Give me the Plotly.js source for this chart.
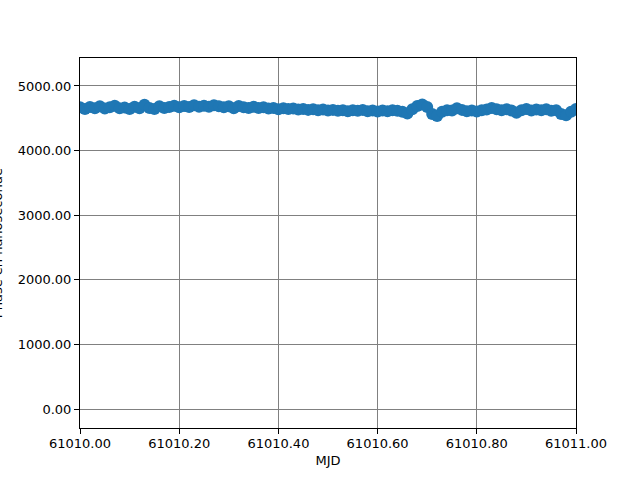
<!DOCTYPE html>
<html>
<head>
<meta charset="utf-8">
<script src="https://cdn.plot.ly/plotly-3.0.1.min.js"></script>
<style>html,body{margin:0;padding:0;background:#fff;}#chart{width:640px;height:480px;}</style>
</head>
<body>
<div id="chart"></div>
<script>
// MJD sample times (offsets in days from 61010)
const mjdOffsets = [0.00,0.01,0.02,0.03,0.04,0.05,0.06,0.07,0.08,0.09,
  0.10,0.11,0.12,0.13,0.14,0.15,0.16,0.17,0.18,0.19,
  0.20,0.21,0.22,0.23,0.24,0.25,0.26,0.27,0.28,0.29,
  0.30,0.31,0.32,0.33,0.34,0.35,0.36,0.37,0.38,0.39,
  0.40,0.41,0.42,0.43,0.44,0.45,0.46,0.47,0.48,0.49,
  0.50,0.51,0.52,0.53,0.54,0.55,0.56,0.57,0.58,0.59,
  0.60,0.61,0.62,0.63,0.64,0.65,0.66,0.67,0.68,0.69,
  0.70,0.71,0.72,0.73,0.74,0.75,0.76,0.77,0.78,0.79,
  0.80,0.81,0.82,0.83,0.84,0.85,0.86,0.87,0.88,0.89,
  0.90,0.91,0.92,0.93,0.94,0.95,0.96,0.97,0.98,0.99,1.00];
const mjdBase = 61010;
// Phase in nanoseconds
const phaseNs = [4670,4645,4675,4655,4685,4650,4670,4695,4655,4665,
  4645,4680,4655,4710,4660,4645,4685,4660,4675,4695,
  4670,4690,4675,4700,4680,4695,4680,4700,4685,4670,
  4685,4655,4690,4670,4660,4680,4660,4670,4650,4660,
  4640,4655,4645,4650,4635,4645,4630,4640,4625,4635,
  4620,4630,4615,4625,4610,4625,4615,4630,4610,4620,
  4605,4620,4610,4625,4615,4600,4575,4640,4690,4715,
  4675,4565,4535,4600,4625,4620,4655,4630,4610,4620,
  4605,4625,4635,4660,4640,4625,4640,4620,4585,4625,
  4645,4620,4635,4625,4640,4615,4625,4565,4545,4600,4645];
const xTickVals = [61010.0,61010.2,61010.4,61010.6,61010.8,61011.0];
const yTickVals = [0,1000,2000,3000,4000,5000];

const mjd = mjdOffsets.map(o => mjdBase + o);

const trace = {
  x: mjd, y: phaseNs, type: 'scatter', mode: 'markers',
  marker: {color: '#1f77b4', size: 12, line: {width: 0}},
  hoverinfo: 'skip'
};

const font = {family: 'DejaVu Sans', size: 13, color: '#000'};
const layout = {
  width: 640, height: 480,
  margin: {l: 80, r: 64, t: 58, b: 52},
  paper_bgcolor: '#fff', plot_bgcolor: '#fff',
  showlegend: false,
  font: font,
  xaxis: {
    range: [61010, 61011], tickvals: xTickVals, tickformat: '.2f',
    showgrid: true, gridcolor: '#808080', gridwidth: 1,
    zeroline: false, showline: true, linecolor: '#000', linewidth: 1, mirror: true,
    ticks: 'outside', ticklen: 5, tickcolor: '#000', tickfont: font,
    ticklabelstandoff: -2,
    title: {text: 'MJD', font: font, standoff: 6}
  },
  yaxis: {
    range: [-294, 5433], tickvals: yTickVals, tickformat: '.2f',
    showgrid: true, gridcolor: '#808080', gridwidth: 1,
    zeroline: false, showline: true, linecolor: '#000', linewidth: 1, mirror: true,
    ticks: 'outside', ticklen: 5, tickcolor: '#000', tickfont: font
  },
  annotations: [{
    text: 'Phase en nanoseconde', textangle: -90, font: font,
    xref: 'paper', yref: 'paper', x: -0.167, y: 0.5,
    xanchor: 'center', yanchor: 'middle', showarrow: false
  }]
};

Plotly.newPlot('chart', [trace], layout, {displayModeBar: false, staticPlot: true});
</script>
</body>
</html>
